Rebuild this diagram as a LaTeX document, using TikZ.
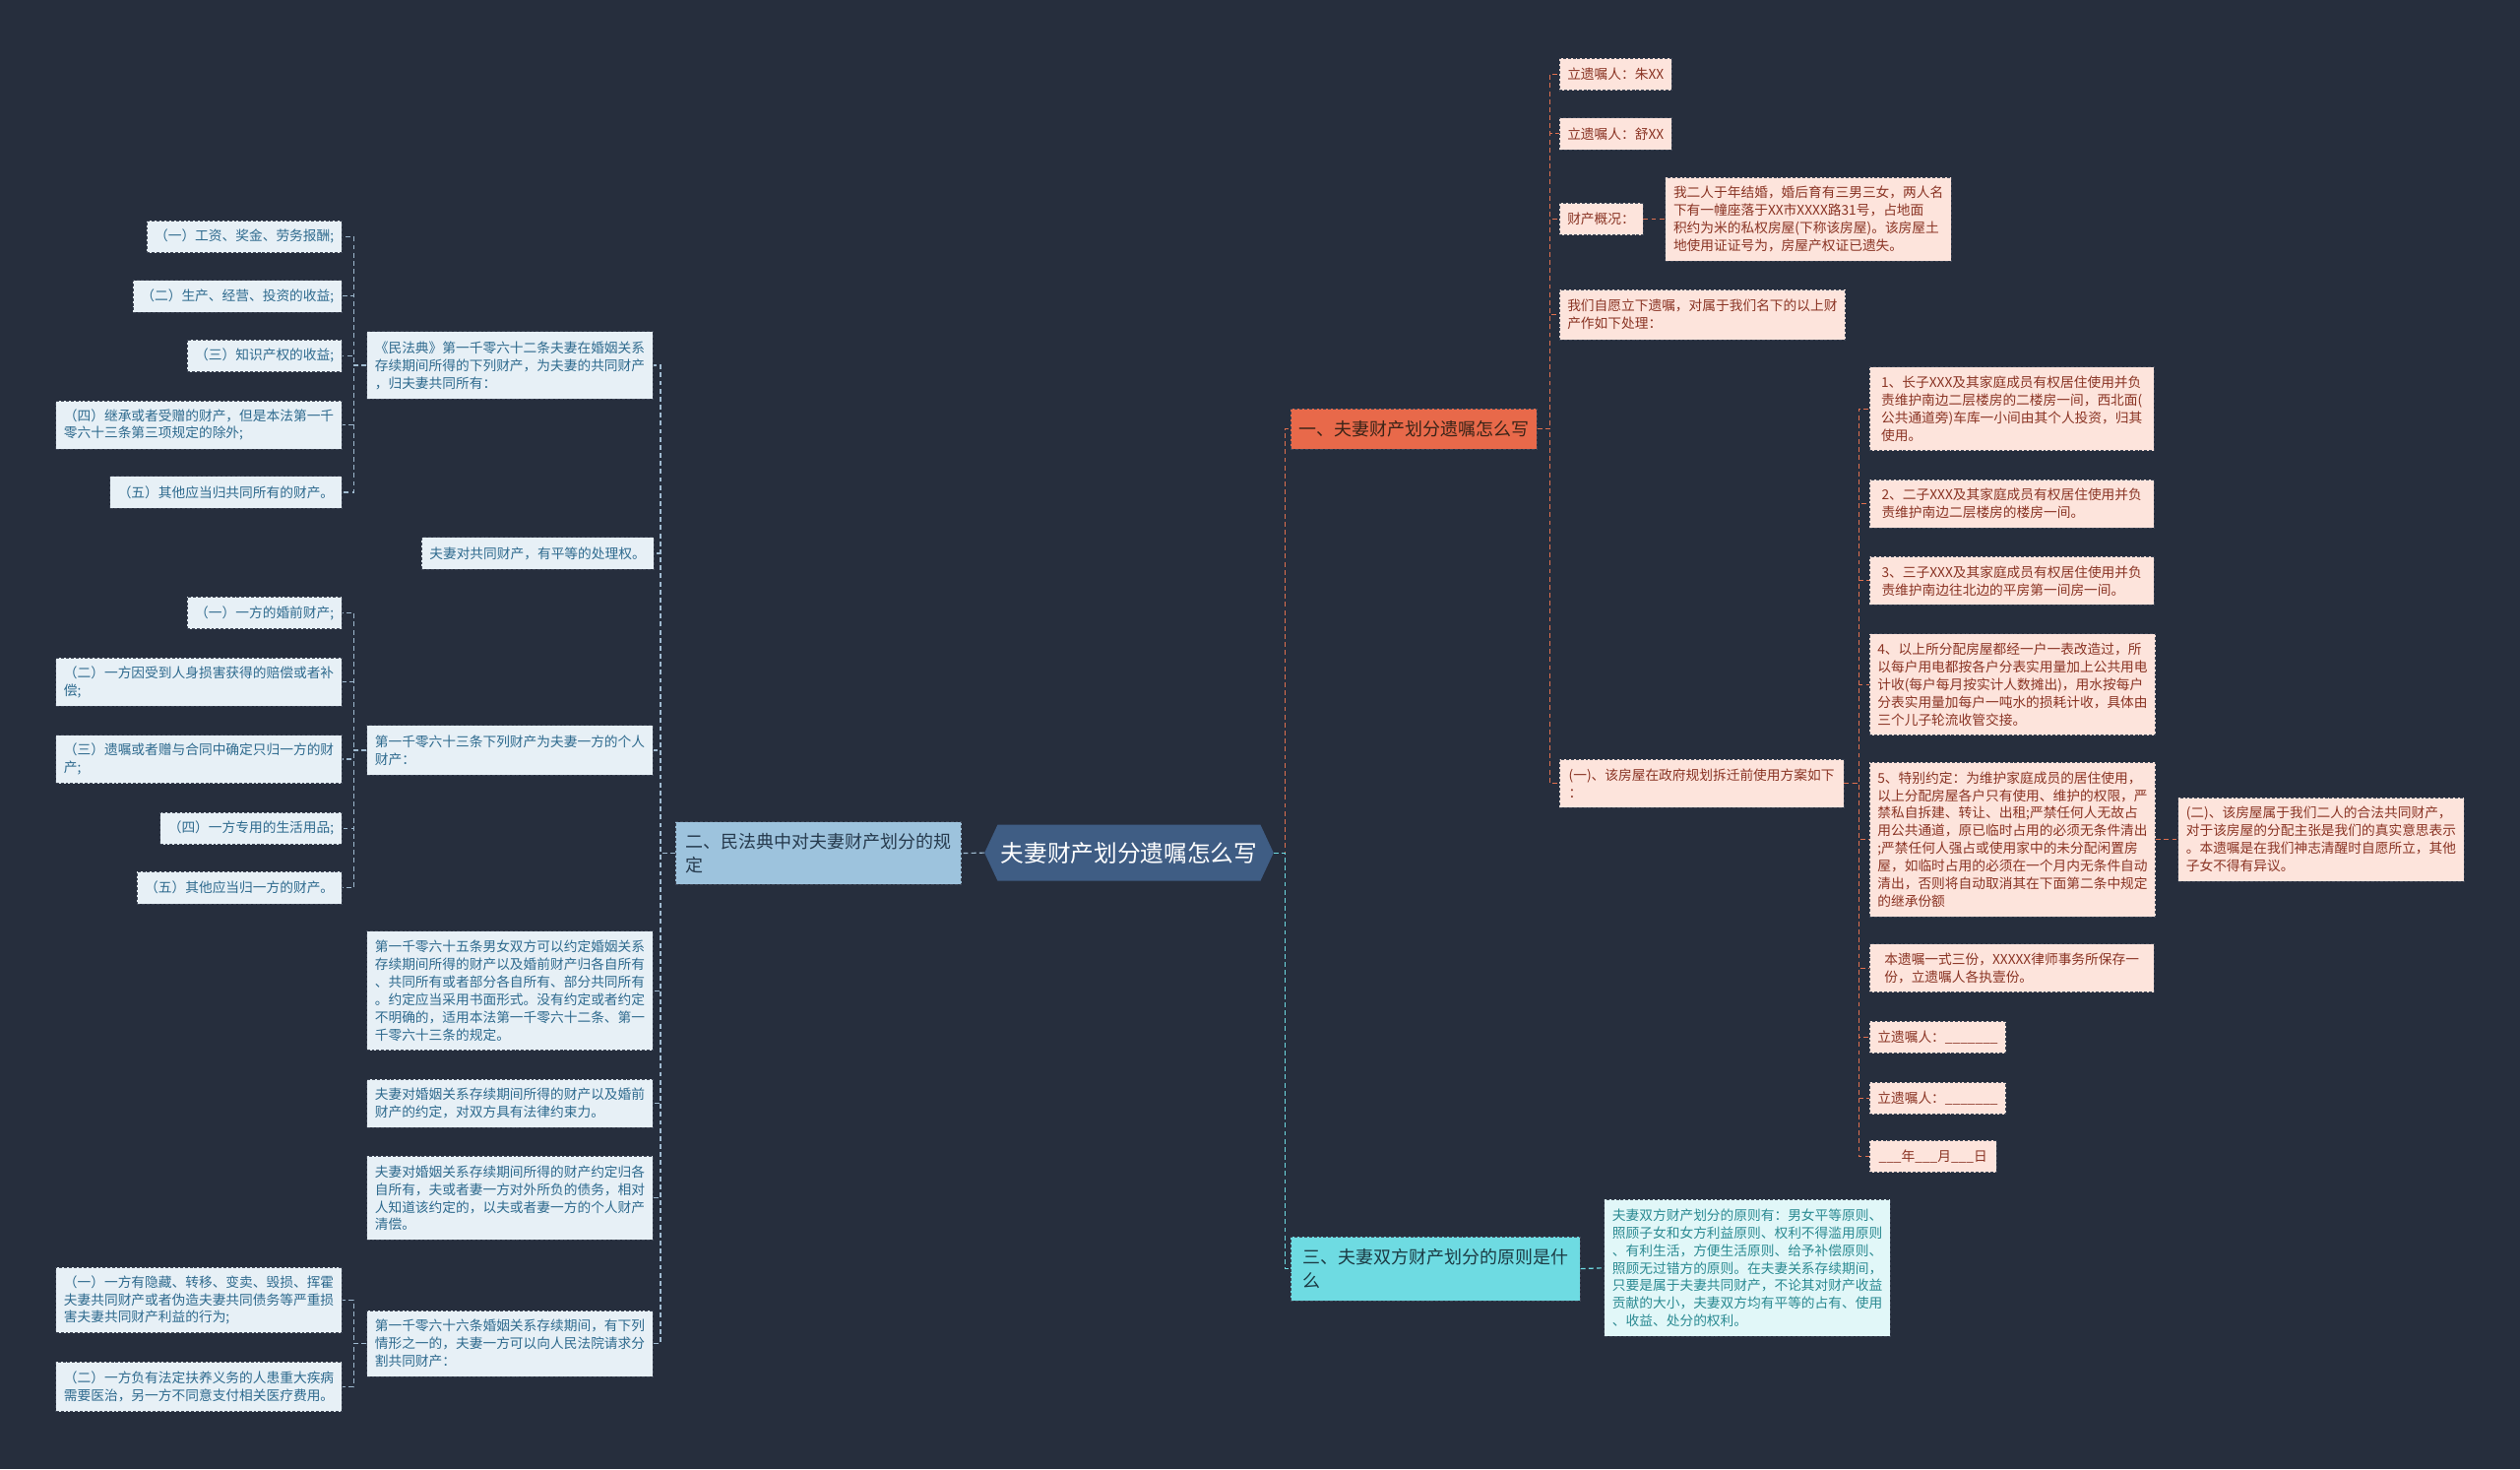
\documentclass[tikz,border=0pt]{standalone}
\usepackage{fontspec}
\newfontfamily\cjk{Noto Sans CJK SC}
\usetikzlibrary{shapes.symbols}
\definecolor{bg}{HTML}{262E3D}
\definecolor{lfill}{HTML}{E7F0F6}
\definecolor{ltext}{HTML}{2E6A8E}
\definecolor{rfill}{HTML}{FDE4DC}
\definecolor{rtext}{HTML}{8A3424}
\definecolor{cfill}{HTML}{E1F7F8}
\definecolor{ctext}{HTML}{2B8A92}
\definecolor{bordc}{HTML}{3E4656}
\definecolor{lconc}{HTML}{9FBAD0}
\definecolor{rconc}{HTML}{E0704F}
\definecolor{cconc}{HTML}{6EDBE2}
\definecolor{centfill}{HTML}{3F5D84}
\definecolor{b2fill}{HTML}{9DC3DD}
\definecolor{b2text}{HTML}{263A4D}
\definecolor{b1fill}{HTML}{E8694A}
\definecolor{b1text}{HTML}{3A2418}
\definecolor{b3fill}{HTML}{6EDBE2}
\definecolor{b3text}{HTML}{1C3B44}
\tikzset{
  box/.style={draw=bordc, dash pattern=on 1.8pt off 1.2pt, line width=0.5pt,
    inner xsep=5pt, inner ysep=3pt, align=left, anchor=north west,
    font=\cjk\fontsize{8.4}{11}\selectfont},
  lbox/.style={box, fill=lfill, text=ltext, anchor=north east},
  mbox/.style={box, fill=lfill, text=ltext},
  rbox/.style={box, fill=rfill, text=rtext},
  cbox/.style={box, fill=cfill, text=ctext},
  wh/.style 2 args={minimum width=#1pt, minimum height=#2pt},
  bigbox/.style={box, font=\cjk\fontsize{11}{15}\selectfont},
  con/.style={line width=0.7pt, dash pattern=on 3pt off 2pt},
  lcon/.style={con, draw=lconc},
  rcon/.style={con, draw=rconc},
  ccon/.style={con, draw=cconc},
}
\begin{document}
\begin{tikzpicture}[x=1pt,y=-1pt]
\fill[bg] (0,0) rectangle (1568,914);
\useasboundingbox (0,0) rectangle (1568,914);

% center
\node[signal, signal to=west and east, signal pointer angle=130,
  fill=centfill, text=white, minimum width=175pt, minimum height=35pt,
  inner sep=2pt, font=\cjk\fontsize{14.5}{17}\selectfont] (C) at (702.5,530.5) {夫妻财产划分遗嘱怎么写};

% branch 2 (left)
\node[bigbox, fill=b2fill, text=b2text, wh={178}{39}] (B2) at (420,511) {二、民法典中对夫妻财产划分的规\\定};

% middle column
\node[mbox, wh={177}{42}] (M1) at (228,206) {《民法典》第一千零六十二条夫妻在婚姻关系\\存续期间所得的下列财产，为夫妻的共同财产\\，归夫妻共同所有：};
\node[mbox, wh={143}{20}] (M2) at (262,334) {夫妻对共同财产，有平等的处理权。};
\node[mbox, wh={177}{31}] (M3) at (228,451) {第一千零六十三条下列财产为夫妻一方的个人\\财产：};
\node[mbox, wh={177}{74}] (M4) at (228,579) {第一千零六十五条男女双方可以约定婚姻关系\\存续期间所得的财产以及婚前财产归各自所有\\、共同所有或者部分各自所有、部分共同所有\\。约定应当采用书面形式。没有约定或者约定\\不明确的，适用本法第一千零六十二条、第一\\千零六十三条的规定。};
\node[mbox, wh={177}{30}] (M5) at (228,671) {夫妻对婚姻关系存续期间所得的财产以及婚前\\财产的约定，对双方具有法律约束力。};
\node[mbox, wh={177}{52}] (M6) at (228,719) {夫妻对婚姻关系存续期间所得的财产约定归各\\自所有，夫或者妻一方对外所负的债务，相对\\人知道该约定的，以夫或者妻一方的个人财产\\清偿。};
\node[mbox, wh={177}{41}] (M7) at (228,815) {第一千零六十六条婚姻关系存续期间，有下列\\情形之一的，夫妻一方可以向人民法院请求分\\割共同财产：};

% left leaves
\node[lbox, wh={120}{20}] (L1) at (213,137) {（一）工资、奖金、劳务报酬;};
\node[lbox, wh={129}{20}] (L2) at (213,174) {（二）生产、经营、投资的收益;};
\node[lbox, wh={95}{20}] (L3) at (213,211) {（三）知识产权的收益;};
\node[lbox, wh={177}{30}] (L4) at (213,249) {（四）继承或者受赠的财产，但是本法第一千\\零六十三条第三项规定的除外;};
\node[lbox, wh={143}{20}] (L5) at (213,296) {（五）其他应当归共同所有的财产。};
\node[lbox, wh={95}{20}] (P1) at (213,371) {（一）一方的婚前财产;};
\node[lbox, wh={177}{30}] (P2) at (213,409) {（二）一方因受到人身损害获得的赔偿或者补\\偿;};
\node[lbox, wh={177}{30}] (P3) at (213,457) {（三）遗嘱或者赠与合同中确定只归一方的财\\产;};
\node[lbox, wh={112}{20}] (P4) at (213,505) {（四）一方专用的生活用品;};
\node[lbox, wh={127}{20}] (P5) at (213,542) {（五）其他应当归一方的财产。};
\node[lbox, wh={177}{41}] (Q1) at (213,788) {（一）一方有隐藏、转移、变卖、毁损、挥霍\\夫妻共同财产或者伪造夫妻共同债务等严重损\\害夫妻共同财产利益的行为;};
\node[lbox, wh={177}{31}] (Q2) at (213,847) {（二）一方负有法定扶养义务的人患重大疾病\\需要医治，另一方不同意支付相关医疗费用。};

% branch 1 (right, red)
\node[bigbox, fill=b1fill, text=b1text, wh={152}{25}] (B1) at (803,254) {一、夫妻财产划分遗嘱怎么写};
\node[rbox, wh={70}{20}] (R1) at (970,36) {立遗嘱人：朱XX};
\node[rbox, wh={70}{20}] (R2) at (970,73) {立遗嘱人：舒XX};
\node[rbox, wh={51}{20}] (R3) at (970,126) {财产概况：};
\node[rbox, wh={178}{52}] (R3a) at (1036,110) {我二人于年结婚，婚后育有三男三女，两人名\\下有一幢座落于XX市XXXX路31号，占地面\\积约为米的私权房屋(下称该房屋)。该房屋土\\地使用证证号为，房屋产权证已遗失。};
\node[rbox, wh={178}{31}] (R4) at (970,180) {我们自愿立下遗嘱，对属于我们名下的以上财\\产作如下处理：};
\node[rbox, wh={177}{30}] (R5) at (970,472) {(一)、该房屋在政府规划拆迁前使用方案如下\\：};

\node[rbox, wh={177}{52}] (S1) at (1163,228) {1、长子XXX及其家庭成员有权居住使用并负\\责维护南边二层楼房的二楼房一间，西北面(\\公共通道旁)车库一小间由其个人投资，归其\\使用。};
\node[rbox, wh={177}{30}] (S2) at (1163,298) {2、二子XXX及其家庭成员有权居住使用并负\\责维护南边二层楼房的楼房一间。};
\node[rbox, wh={177}{30}] (S3) at (1163,346) {3、三子XXX及其家庭成员有权居住使用并负\\责维护南边往北边的平房第一间房一间。};
\node[rbox, wh={177}{63}] (S4) at (1163,394) {4、以上所分配房屋都经一户一表改造过，所\\以每户用电都按各户分表实用量加上公共用电\\计收(每户每月按实计人数摊出)，用水按每户\\分表实用量加每户一吨水的损耗计收，具体由\\三个儿子轮流收管交接。};
\node[rbox, wh={177}{96}] (S5) at (1163,474) {5、特别约定：为维护家庭成员的居住使用，\\以上分配房屋各户只有使用、维护的权限，严\\禁私自拆建、转让、出租;严禁任何人无故占\\用公共通道，原已临时占用的必须无条件清出\\;严禁任何人强占或使用家中的未分配闲置房\\屋，如临时占用的必须在一个月内无条件自动\\清出，否则将自动取消其在下面第二条中规定\\的继承份额};
\node[rbox, wh={177}{30}] (S6) at (1163,587) {本遗嘱一式三份，XXXXX律师事务所保存一\\份，立遗嘱人各执壹份。};
\node[rbox, wh={84}{20}] (S7) at (1163,635) {立遗嘱人：\_\_\_\_\_\_\_};
\node[rbox, wh={84}{20}] (S8) at (1163,673) {立遗嘱人：\_\_\_\_\_\_\_};
\node[rbox, wh={79}{20}] (S9) at (1163,709) {\_\_\_年\_\_\_月\_\_\_日};
\node[rbox, wh={177}{52}] (T1) at (1355,496) {(二)、该房屋属于我们二人的合法共同财产，\\对于该房屋的分配主张是我们的真实意思表示\\。本遗嘱是在我们神志清醒时自愿所立，其他\\子女不得有异议。};

% branch 3 (right, cyan)
\node[bigbox, fill=b3fill, text=b3text, wh={180}{40}] (B3) at (803,769) {三、夫妻双方财产划分的原则是什\\么};
\node[cbox, wh={177}{85}] (U1) at (998,746) {夫妻双方财产划分的原则有：男女平等原则、\\照顾子女和女方利益原则、权利不得滥用原则\\、有利生活，方便生活原则、给予补偿原则、\\照顾无过错方的原则。在夫妻关系存续期间，\\只要是属于夫妻共同财产，不论其对财产收益\\贡献的大小，夫妻双方均有平等的占有、使用\\、收益、处分的权利。};

% connectors left
\draw[lcon] (C.west) -- (B2.east);
\foreach \m in {M1,M2,M3,M4,M5,M6,M7} \draw[lcon] (B2.west) -- ++(-9,0) |- (\m.east);
\foreach \l in {L1,L2,L3,L4,L5} \draw[lcon] (M1.west) -- ++(-8,0) |- (\l.east);
\foreach \l in {P1,P2,P3,P4,P5} \draw[lcon] (M3.west) -- ++(-8,0) |- (\l.east);
\foreach \l in {Q1,Q2} \draw[lcon] (M7.west) -- ++(-8,0) |- (\l.east);

% connectors right
\draw[rcon] (C.east) -- ++(7,0) |- (B1.west);
\draw[ccon] (C.east) -- ++(7,0) |- (B3.west);
\foreach \r in {R1,R2,R3,R4,R5} \draw[rcon] (B1.east) -- ++(8,0) |- (\r.west);
\draw[rcon] (R3.east) -- (R3a.west);
\foreach \s in {S1,S2,S3,S4,S5,S6,S7,S8,S9} \draw[rcon] (R5.east) -- ++(9,0) |- (\s.west);
\draw[rcon] (S5.east) -- (T1.west);
\draw[ccon] (B3.east) -- (U1.west);
\end{tikzpicture}
\end{document}
